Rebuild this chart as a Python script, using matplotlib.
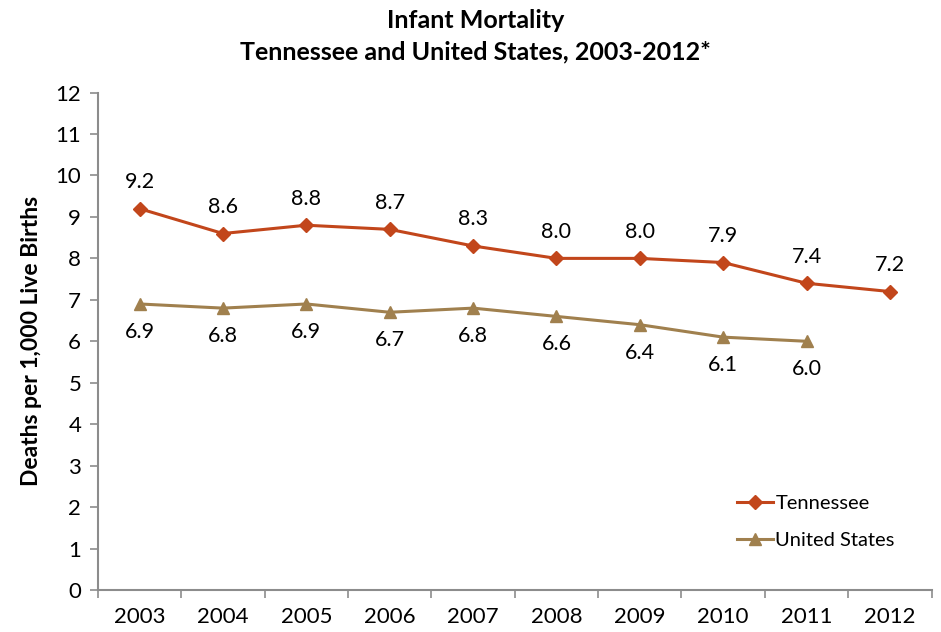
import matplotlib
matplotlib.use("Agg")
import matplotlib.pyplot as plt
import numpy as np

plt.rcParams['font.family'] = ['Lato', 'DejaVu Sans']

years = ["2003", "2004", "2005", "2006", "2007", "2008", "2009", "2010", "2011", "2012"]
tennessee = [9.2, 8.6, 8.8, 8.7, 8.3, 8.0, 8.0, 7.9, 7.4, 7.2]
united_states = [6.9, 6.8, 6.9, 6.7, 6.8, 6.6, 6.4, 6.1, 6.0]

tn_color = "#C2461B"
us_color = "#A0804E"
axis_color = "#8C8C8C"

fig = plt.figure(figsize=(9.41, 6.32), dpi=100)
ax = fig.add_axes([0.104, 0.0665, 0.886, 0.787])

x_tn = np.arange(len(tennessee))
x_us = np.arange(len(united_states))

ax.plot(x_tn, tennessee, color=tn_color, lw=2.2, marker="D", ms=7,
        label="Tennessee")
ax.plot(x_us, united_states, color=us_color, lw=2.2, marker="^", ms=8,
        label="United States")

for xi, v in zip(x_tn, tennessee):
    ax.annotate(f"{v:.1f}", (xi, v), xytext=(0, 12), textcoords="offset points",
                ha="center", va="bottom", fontsize=15.5)
for xi, v in zip(x_us, united_states):
    ax.annotate(f"{v:.1f}", (xi, v), xytext=(0, -13), textcoords="offset points",
                ha="center", va="top", fontsize=15.5)

ax.set_xlim(-0.5, len(years) - 0.5)
ax.set_ylim(0, 12)
ax.set_yticks(range(0, 13))
ax.set_xticks(np.arange(len(years)))
ax.set_xticklabels(years)
ax.set_xticks(np.arange(len(years) + 1) - 0.5, minor=True)
ax.tick_params(axis="x", which="major", length=0, pad=12, labelsize=16)
ax.tick_params(axis="x", which="minor", length=6, color=axis_color, width=1.2)
ax.tick_params(axis="y", length=6, color=axis_color, width=1.2, labelsize=16, pad=6)

for s in ["top", "right"]:
    ax.spines[s].set_visible(False)
for s in ["left", "bottom"]:
    ax.spines[s].set_color(axis_color)
    ax.spines[s].set_linewidth(1.5)

ax.set_ylabel("Deaths per 1,000 Live Births", fontsize=16.5, fontweight="bold",
              labelpad=10)

fig.text(0.505, 0.968, "Infant Mortality", ha="center", va="center",
         fontsize=18, fontweight="bold")
fig.text(0.505, 0.918, "Tennessee and United States, 2003-2012*", ha="center",
         va="center", fontsize=18, fontweight="bold")

ax.legend(loc="lower left", bbox_to_anchor=(0.745, 0.045), frameon=False,
          fontsize=14.5, handlelength=1.8, handletextpad=0.1, labelspacing=1.0)

fig.savefig("out.png", dpi=100)
